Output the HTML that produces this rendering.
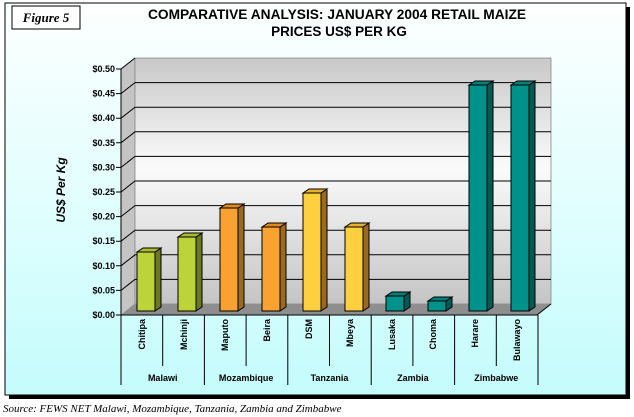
<!DOCTYPE html>
<html><head><style>
html,body{margin:0;padding:0;background:#fff;}
svg{display:block;font-family:"Liberation Sans",Arial,sans-serif;}
</style></head><body>
<svg width="634" height="417" viewBox="0 0 634 417" xmlns="http://www.w3.org/2000/svg">
<defs>
<linearGradient id="bg" x1="0" y1="0" x2="0" y2="1">
<stop offset="0" stop-color="#fcfffe"/><stop offset="0.5" stop-color="#e2fefe"/><stop offset="1" stop-color="#c4fcfc"/>
</linearGradient>
<linearGradient id="wall" x1="0" y1="0" x2="0" y2="1">
<stop offset="0" stop-color="#c8c8c8"/><stop offset="0.45" stop-color="#fbfbfb"/><stop offset="1" stop-color="#c4c4c4"/>
</linearGradient>
</defs>
<rect x="0" y="0" width="634" height="417" fill="#fff"/>
<rect x="9" y="7" width="621" height="392" fill="#000"/>
<rect x="5" y="3" width="621" height="392" fill="url(#bg)" stroke="#000" stroke-width="1"/>
<rect x="12" y="6" width="68" height="23" fill="#fff" stroke="#000"/>
<text x="46" y="22" font-family="Liberation Serif,serif" font-style="italic" font-weight="bold" font-size="13" text-anchor="middle">Figure 5</text>
<text x="337" y="19" font-size="13.5" font-weight="bold" text-anchor="middle" textLength="378" lengthAdjust="spacingAndGlyphs">COMPARATIVE ANALYSIS: JANUARY 2004 RETAIL MAIZE</text>
<text x="339" y="36" font-size="13.5" font-weight="bold" text-anchor="middle">PRICES US$ PER KG</text>
<polygon points="121,69 135,58 135,304 121,315" fill="#c4c4c4" stroke="#888" stroke-width="0.6"/>
<rect x="135" y="58" width="416" height="246" fill="url(#wall)" stroke="#888" stroke-width="0.8"/>
<polygon points="121,315 135,304 551,304 537,315" fill="#8e8e8e"/>
<g stroke="#000" stroke-width="1" fill="none">
<path d="M121,93.6 L135,82.6 H551"/>
<path d="M121,118.2 L135,107.2 H551"/>
<path d="M121,142.8 L135,131.8 H551"/>
<path d="M121,167.4 L135,156.4 H551"/>
<path d="M121,192 L135,181 H551"/>
<path d="M121,216.6 L135,205.6 H551"/>
<path d="M121,241.2 L135,230.2 H551"/>
<path d="M121,265.8 L135,254.8 H551"/>
<path d="M121,290.4 L135,279.4 H551"/>
<path d="M121,69 L135,58"/>
<path d="M121,69 V315 H537 L551,304"/>
<path d="M116,69H121M116,93.6H121M116,118.2H121M116,142.8H121M116,167.4H121M116,192H121M116,216.6H121M116,241.2H121M116,265.8H121M116,290.4H121M116,315H121"/>
</g>
<g font-size="9" font-weight="bold" text-anchor="end">
<text x="115" y="72">$0.50</text><text x="115" y="96.6">$0.45</text><text x="115" y="121.2">$0.40</text><text x="115" y="145.8">$0.35</text><text x="115" y="170.4">$0.30</text><text x="115" y="195">$0.25</text><text x="115" y="219.6">$0.20</text><text x="115" y="244.2">$0.15</text><text x="115" y="268.8">$0.10</text><text x="115" y="293.4">$0.05</text><text x="115" y="318">$0.00</text>
</g>
<text transform="translate(65,190) rotate(-90)" font-size="12" font-weight="bold" font-style="italic" text-anchor="middle">US$ Per Kg</text>
<g stroke="#000" stroke-width="1">
<rect x="137" y="252" width="18" height="59" fill="#bcd43a"/><polygon points="155,252 161,248 161,307 155,311" fill="#6a7a1c"/><polygon points="137,252 143,248 161,248 155,252" fill="#a8be30"/>
<rect x="178" y="237" width="18" height="74" fill="#bcd43a"/><polygon points="196,237 202,233 202,307 196,311" fill="#6a7a1c"/><polygon points="178,237 184,233 202,233 196,237" fill="#a8be30"/>
<rect x="220" y="208" width="18" height="103" fill="#f9a232"/><polygon points="238,208 244,204 244,307 238,311" fill="#9c6a1c"/><polygon points="220,208 226,204 244,204 238,208" fill="#e08a20"/>
<rect x="262" y="227" width="18" height="84" fill="#f9a232"/><polygon points="280,227 286,223 286,307 280,311" fill="#9c6a1c"/><polygon points="262,227 268,223 286,223 280,227" fill="#e08a20"/>
<rect x="303" y="193" width="18" height="118" fill="#fecf3e"/><polygon points="321,193 327,189 327,307 321,311" fill="#9c6a1c"/><polygon points="303,193 309,189 327,189 321,193" fill="#e8b030"/>
<rect x="345" y="227" width="18" height="84" fill="#fecf3e"/><polygon points="363,227 369,223 369,307 363,311" fill="#9c6a1c"/><polygon points="345,227 351,223 369,223 363,227" fill="#e8b030"/>
<rect x="386" y="296" width="18" height="15" fill="#00918a"/><polygon points="404,296 410,292 410,307 404,311" fill="#005a54"/><polygon points="386,296 392,292 410,292 404,296" fill="#00807a"/>
<rect x="428" y="301" width="18" height="10" fill="#00918a"/><polygon points="446,301 452,297 452,307 446,311" fill="#005a54"/><polygon points="428,301 434,297 452,297 446,301" fill="#00807a"/>
<rect x="469" y="85" width="18" height="226" fill="#00918a"/><polygon points="487,85 493,81 493,307 487,311" fill="#005a54"/><polygon points="469,85 475,81 493,81 487,85" fill="#00807a"/>
<rect x="511" y="85" width="18" height="226" fill="#00918a"/><polygon points="529,85 535,81 535,307 529,311" fill="#005a54"/><polygon points="511,85 517,81 535,81 529,85" fill="#00807a"/>
</g>
<g stroke="#000" stroke-width="1">
<path d="M121,315V385M204.4,315V385M287.8,315V385M371.2,315V385M454.6,315V385M538,315V385"/>
<path d="M162.7,315V366M246.1,315V366M329.5,315V366M412.9,315V366M496.3,315V366"/>
</g>
<g font-size="9" font-weight="bold" text-anchor="end">
<text transform="translate(145,319) rotate(-90)">Chitipa</text>
<text transform="translate(187,319) rotate(-90)">Mchinji</text>
<text transform="translate(228,319) rotate(-90)">Maputo</text>
<text transform="translate(270,319) rotate(-90)">Beira</text>
<text transform="translate(312,319) rotate(-90)">DSM</text>
<text transform="translate(353,319) rotate(-90)">Mbeya</text>
<text transform="translate(395,319) rotate(-90)">Lusaka</text>
<text transform="translate(436,319) rotate(-90)">Choma</text>
<text transform="translate(478,319) rotate(-90)">Harare</text>
<text transform="translate(520,319) rotate(-90)">Bulawayo</text>
</g>
<g font-size="9" font-weight="bold" text-anchor="middle">
<text x="162.7" y="381">Malawi</text><text x="246.1" y="381">Mozambique</text><text x="329.5" y="381">Tanzania</text><text x="412.9" y="381">Zambia</text><text x="496.3" y="381">Zimbabwe</text>
</g>
<text x="3" y="412" font-family="Liberation Serif,serif" font-style="italic" font-size="11">Source: FEWS NET Malawi, Mozambique, Tanzania, Zambia and Zimbabwe</text>
</svg>
</body></html>
